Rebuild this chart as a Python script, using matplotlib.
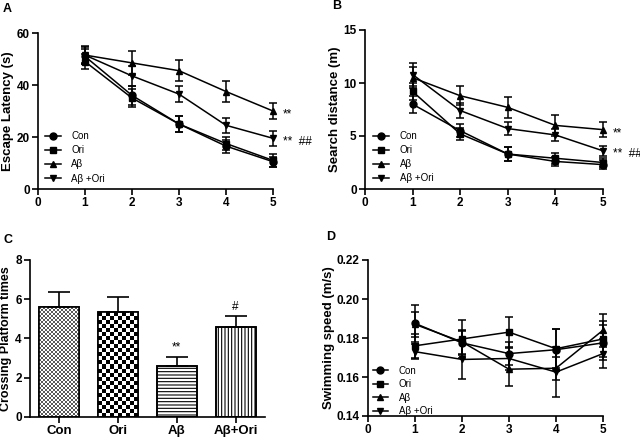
import numpy as np
import matplotlib
matplotlib.use('Agg')
import matplotlib.pyplot as plt
from matplotlib.lines import Line2D

plt.rcParams['font.family'] = ['Liberation Sans', 'DejaVu Sans']
plt.rcParams['hatch.linewidth'] = 0.8

# ---------------- data ----------------
days = [1, 2, 3, 4, 5]
groups = ['Con', 'Ori', 'Aβ', 'Aβ +Ori']
bar_labels = ['Con', 'Ori', 'Aβ', 'Aβ+Ori']

latency_con = [51.0, 36.0, 25.0, 16.5, 10.5]
latency_ori = [49.0, 35.0, 25.0, 17.5, 11.0]
latency_ab = [51.5, 48.5, 45.5, 37.5, 30.0]
latency_abori = [51.5, 43.5, 36.5, 24.5, 19.5]
latency_con_err = [3.0, 3.5, 3.0, 2.5, 2.0]
latency_ori_err = [3.0, 3.5, 3.0, 2.5, 2.5]
latency_ab_err = [3.0, 4.5, 4.0, 4.2, 3.0]
latency_abori_err = [3.4, 4.0, 3.0, 2.8, 3.0]

dist_con = [8.0, 5.5, 3.3, 2.6, 2.3]
dist_ori = [9.2, 5.2, 3.3, 2.9, 2.5]
dist_ab = [10.5, 8.8, 7.7, 6.0, 5.6]
dist_abori = [10.8, 7.4, 5.7, 5.1, 3.6]
dist_con_err = [0.8, 0.6, 0.7, 0.4, 0.4]
dist_ori_err = [0.8, 0.6, 0.7, 0.5, 0.4]
dist_ab_err = [1.0, 0.9, 1.0, 1.0, 0.7]
dist_abori_err = [1.1, 0.7, 0.6, 0.6, 0.5]

crossing = [5.6, 5.35, 2.6, 4.6]
crossing_err = [0.78, 0.75, 0.46, 0.55]
crossing_marks = ['', '', '**', '#']

speed_con = [0.1875, 0.1775, 0.172, 0.174, 0.1775]
speed_ori = [0.176, 0.1795, 0.183, 0.1745, 0.1795]
speed_ab = [0.187, 0.178, 0.164, 0.1645, 0.184]
speed_abori = [0.173, 0.169, 0.1695, 0.1625, 0.172]
speed_con_err = [0.0095, 0.006, 0.006, 0.0105, 0.009]
speed_ori_err = [0.006, 0.0095, 0.008, 0.010, 0.009]
speed_ab_err = [0.0065, 0.006, 0.0085, 0.006, 0.0085]
speed_abori_err = [0.004, 0.010, 0.006, 0.013, 0.0075]

markers = ['o', 's', '^', 'v']

W, H = 640, 437
fig = plt.figure(figsize=(W / 100, H / 100), dpi=100)


def px_axes(x0, x1, ytop, ybot):
    return fig.add_axes([x0 / W, (H - ybot) / H, (x1 - x0) / W, (ybot - ytop) / H])


def style(ax):
    for s in ['top', 'right']:
        ax.spines[s].set_visible(False)
    for s in ['left', 'bottom']:
        ax.spines[s].set_linewidth(1.2)
    ax.tick_params(direction='out', length=4, width=1.2, labelsize=8.5, pad=2)
    for lab in ax.get_xticklabels() + ax.get_yticklabels():
        lab.set_fontweight('bold')


def line_panel(ax, series, errs, ylim, yticks, ylabel, yfmt=None):
    for y, e, m, g in zip(series, errs, markers, groups):
        ax.errorbar(days, y, yerr=e, marker=m, color='k', ms=5, lw=1.1,
                    elinewidth=1.1, capsize=3, capthick=1.1, clip_on=False)
    ax.set_xlim(0, 5)
    ax.set_ylim(*ylim)
    ax.set_xticks([0, 1, 2, 3, 4, 5])
    ax.set_yticks(yticks)
    if yfmt:
        ax.set_yticklabels([yfmt % v for v in yticks])
    ax.set_ylabel(ylabel, fontsize=9.5, fontweight='bold', labelpad=1.5)
    style(ax)


def add_legend(ax, anchor, spacing):
    handles = [Line2D([], [], color='k', marker=m, ms=5, lw=1.1) for m in markers]
    ax.legend(handles, groups, loc='lower left', bbox_to_anchor=anchor, frameon=False,
              fontsize=7, handlelength=1.6, handletextpad=1.1, labelspacing=spacing,
              borderpad=0, borderaxespad=0)


def stars(ax, y, txt):
    ax.annotate(txt, (5, y), xytext=(7, -2.5), textcoords='offset points',
                va='center', ha='left', fontsize=8.5)


# ---------- A ----------
axA = px_axes(38, 273, 33, 189)
line_panel(axA, [latency_con, latency_ori, latency_ab, latency_abori],
           [latency_con_err, latency_ori_err, latency_ab_err, latency_abori_err],
           (0, 60), [0, 20, 40, 60], 'Escape Latency (s)')
stars(axA, latency_ab[-1], '**')
stars(axA, latency_abori[-1], '**  ##')
add_legend(axA, (0.03, 0.035), 0.42)

# ---------- B ----------
axB = px_axes(365, 603, 30, 189)
line_panel(axB, [dist_con, dist_ori, dist_ab, dist_abori],
           [dist_con_err, dist_ori_err, dist_ab_err, dist_abori_err],
           (0, 15), [0, 5, 10, 15], 'Search distance (m)')
stars(axB, dist_ab[-1], '**')
stars(axB, dist_abori[-1], '**  ##')
add_legend(axB, (0.035, 0.035), 0.42)

# ---------- D ----------
axD = px_axes(368, 603, 260, 416)
line_panel(axD, [speed_con, speed_ori, speed_ab, speed_abori],
           [speed_con_err, speed_ori_err, speed_ab_err, speed_abori_err],
           (0.14, 0.22), [0.14, 0.16, 0.18, 0.20, 0.22], 'Swimming speed (m/s)', '%.2f')
add_legend(axD, (0.02, 0.0), 0.35)

# ---------- C ----------
axC = px_axes(30, 265, 260, 416.7)
xpos = np.arange(len(crossing))
width = 0.68
axC.set_xlim(-0.5, 3.5)
axC.set_ylim(0, 8)
bars = axC.bar(xpos, crossing, width=width, color='white', edgecolor='k', lw=1.2, zorder=1)
axC.errorbar(xpos, crossing, yerr=[np.zeros(len(crossing)), crossing_err], fmt='none',
             ecolor='k', elinewidth=1.2, capsize=8, capthick=1.2, zorder=3)

# textures
fig.canvas.draw()
to_px = axC.transData.transform
cell_sizes = [2.0, 4.0]
shades = [0.35, 0.0]
for i, (cs, sh) in enumerate(zip(cell_sizes, shades)):
    b = bars[i]
    x0, y0 = b.get_x(), 0
    x1, y1 = b.get_x() + b.get_width(), b.get_height()
    p0 = to_px((x0, y0)); p1 = to_px((x1, y1))
    nx = max(1, int(round((p1[0] - p0[0]) / cs)))
    ny = max(1, int(round((p1[1] - p0[1]) / cs)))
    ii, jj = np.indices((ny, nx))
    img = np.where((ii + jj) % 2 == 0, sh, 1.0)
    im = axC.imshow(img, extent=(x0, x1, y0, y1), cmap='gray', vmin=0, vmax=1,
                    interpolation='nearest', aspect='auto', zorder=1.5)
    im.set_clip_path(b)
bars[2].set_hatch('-----')
bars[3].set_hatch('|||||')
axC.bar(xpos, crossing, width=width, color='none', edgecolor='k', lw=1.2, zorder=2)
axC.set_xlim(-0.5, 3.5)
axC.set_ylim(0, 8)
for x, v, e, m in zip(xpos, crossing, crossing_err, crossing_marks):
    if m:
        axC.text(x, v + e + 0.15, m, ha='center', va='bottom', fontsize=8.5)
axC.set_xticks(xpos)
axC.set_xticklabels(bar_labels)
axC.set_yticks([0, 2, 4, 6, 8])
axC.set_ylabel('Crossing Platform times', fontsize=9, fontweight='bold', labelpad=2)
style(axC)
axC.tick_params(axis='x', labelsize=9.5, length=4)
for lab in axC.get_xticklabels():
    lab.set_fontweight('bold')

# panel letters
for txt, x, y in [('A', 3, 9), ('B', 332, 6), ('C', 4, 240), ('D', 326, 237)]:
    fig.text(x / W, 1 - y / H, txt, fontsize=9, fontweight='bold', va='center', ha='left')

fig.savefig('out.png', dpi=100)
